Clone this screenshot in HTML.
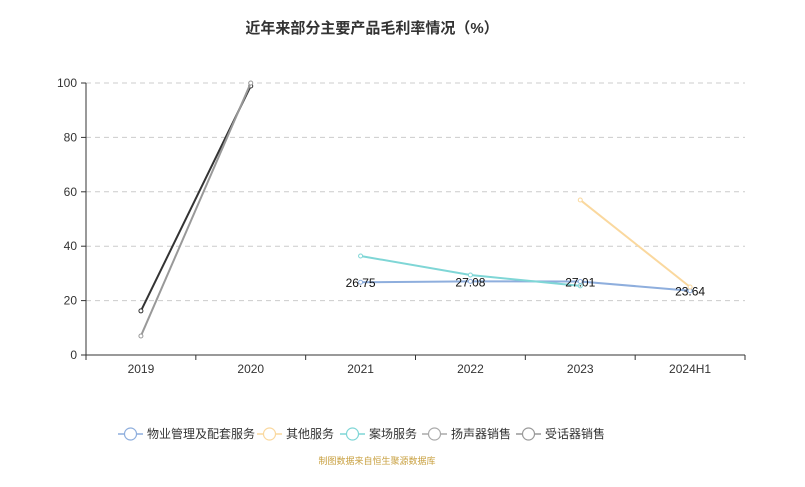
<!DOCTYPE html>
<html><head><meta charset="utf-8"><style>
body{margin:0;background:#fff;font-family:"Liberation Sans","Noto Sans CJK SC",sans-serif}
svg{display:block}
</style></head><body>
<svg id="c" width="805" height="487" xmlns="http://www.w3.org/2000/svg" font-family="Liberation Sans, Noto Sans CJK SC, sans-serif">
<text x="372" y="33" text-anchor="middle" font-size="15" font-weight="bold" fill="#333">近年来部分主要产品毛利率情况（%）</text>
<g id="grid"></g><g id="axes"></g><g id="series"></g><g id="legend"></g>
<text x="377" y="464" text-anchor="middle" font-size="9" fill="#c8a040">制图数据来自恒生聚源数据库</text>
</svg>
<script>
const categories=["2019","2020","2021","2022","2023","2024H1"];
const yTicks=[0,20,40,60,80,100];
const seriesNames=["物业管理及配套服务","其他服务","案场服务","扬声器销售","受话器销售"];
const seriesColors=["#8eaedd","#fad89e","#7fd6d6","#333333","#999999"];
const legendColors=["#8eaedd","#fad89e","#7fd6d6","#aaaaaa","#999999"];
const propertyVals=[null,null,26.75,27.08,27.01,23.64];
const otherVals=[null,null,null,null,57,25];
const siteVals=[null,null,36.4,29.4,25.4,null];
const speakerVals=[16.2,98.9,null,null,null,null];
const receiverVals=[7.0,100,null,null,null,null];
const allVals=[propertyVals,otherVals,siteVals,speakerVals,receiverVals];
const NS="http://www.w3.org/2000/svg";
const L=86,R=745,T=83,B=355;
const bw=(R-L)/categories.length;
const xs=i=>L+bw*(i+0.5);
const ys=v=>B-(v/100)*(B-T);
function mk(tag,attrs,parent){const e=document.createElementNS(NS,tag);for(const k in attrs)e.setAttribute(k,attrs[k]);parent.appendChild(e);return e;}
const grid=document.getElementById('grid'),axes=document.getElementById('axes'),ser=document.getElementById('series'),leg=document.getElementById('legend');
yTicks.forEach(t=>{
  if(t>0){const g=mk('line',{x1:L,x2:R,y1:ys(t),y2:ys(t),stroke:'#ccc','stroke-dasharray':'5,4'},grid);
  
  }
  const tk=mk('line',{x1:L-5,x2:L,y1:ys(t),y2:ys(t),stroke:'#333'},axes);
  
  
  const lb=mk('text',{x:L-9,y:ys(t)+4,'text-anchor':'end','font-size':12,fill:'#333'},axes);lb.textContent=t;
  
  
});
const ya=mk('line',{x1:L,x2:L,y1:T,y2:B,stroke:'#333'},axes);


const xa=mk('line',{x1:L,x2:R,y1:B,y2:B,stroke:'#333'},axes);


for(let i=0;i<=categories.length;i++){const tk=mk('line',{x1:L+bw*i,x2:L+bw*i,y1:B,y2:B+5,stroke:'#333'},axes);
  
  }
categories.forEach((c,i)=>{const lb=mk('text',{x:xs(i),y:B+18,'text-anchor':'middle','font-size':12,fill:'#333'},axes);lb.textContent=c;
  
  });
allVals.forEach((vals,si)=>{
  const pts=[];vals.forEach((v,i)=>{if(v!=null)pts.push([xs(i),ys(v)]);});
  const g=mk('g',{},ser);
  
  
  const p=mk('polyline',{points:pts.map(p=>p.join(',')).join(' '),fill:'none',stroke:seriesColors[si],'stroke-width':2},g);
  
  
  pts.forEach(q=>{const c=mk('circle',{cx:q[0],cy:q[1],r:2,fill:'#fff',stroke:seriesColors[si]},g);
    
    });
});
propertyVals.forEach((v,i)=>{if(v!=null){const t=mk('text',{x:xs(i),y:ys(v)+5,'text-anchor':'middle','font-size':12,fill:'#111'},ser);t.textContent=v.toFixed(2);
  
  }});
const legX=[118,257,340,422,516];
seriesNames.forEach((n,i)=>{const g=mk('g',{},leg);
  
  
  mk('line',{x1:legX[i],x2:legX[i]+25,y1:434,y2:434,stroke:legendColors[i],'stroke-width':1.5},g);
  mk('circle',{cx:legX[i]+12.5,cy:434,r:6,fill:'#fff',stroke:legendColors[i],'stroke-width':1.2},g);
  const t=mk('text',{x:legX[i]+29,y:438,'font-size':12,fill:'#333'},g);t.textContent=n;});
</script>
</body></html>
